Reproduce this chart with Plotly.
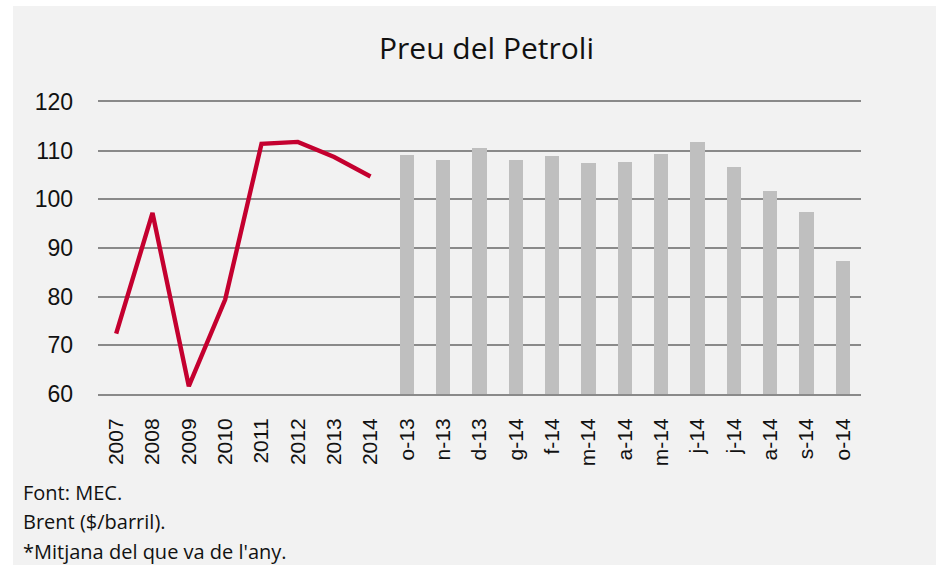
import plotly.graph_objects as go

# ---- data ----
year_labels = ["2007", "2008", "2009", "2010", "2011", "2012", "2013", "2014"]
year_values = [72.4, 97.2, 61.6, 79.4, 111.4, 111.8, 108.7, 104.7]
month_labels = ["o-13", "n-13", "d-13", "g-14", "f-14", "m-14", "a-14",
                "m-14", "j-14", "j-14", "a-14", "s-14", "o-14"]
month_values = [109.1, 108.0, 110.5, 108.0, 109.0, 107.5, 107.7,
                109.4, 111.8, 106.6, 101.7, 97.3, 87.3]
y_ticks = [60, 70, 80, 90, 100, 110, 120]
title_text = "Preu del Petroli"
notes = ["Font: MEC.", "Brent ($/barril).", "*Mitjana del que va de l'any."]

all_labels = year_labels + month_labels
x_year = list(range(len(year_labels)))
x_month = list(range(len(year_labels), len(all_labels)))

# ---- layout geometry (pixels) ----
W, H = 936, 565
L, R, T, B = 98, 861, 102, 394
pw, ph = R - L, B - T


def px_x(x):
    return (x - L) / pw


def px_y(y):
    return (B - y) / ph


fig = go.Figure()
fig.add_trace(go.Bar(x=x_month, y=month_values, width=0.4,
                     marker=dict(color="#bfbfbf", line=dict(width=0)),
                     showlegend=False, hoverinfo="skip"))
fig.add_trace(go.Scatter(x=x_year, y=year_values, mode="lines",
                         line=dict(color="#c4002f", width=4.4),
                         showlegend=False, hoverinfo="skip"))

fig.add_shape(type="rect", xref="paper", yref="paper",
              x0=px_x(13), x1=px_x(W + 5), y0=px_y(H + 5), y1=px_y(6),
              fillcolor="#f2f2f2", line=dict(width=0), layer="below")

fig.add_annotation(text=title_text, xref="paper", yref="paper",
                   x=px_x(486), y=px_y(48), xanchor="center", yanchor="middle",
                   showarrow=False,
                   font=dict(family="Open Sans", size=30, color="#111111"))

for t, yc in zip(notes, [492, 521, 551]):
    fig.add_annotation(text=t, xref="paper", yref="paper",
                       x=px_x(21), y=px_y(yc), xanchor="left", yanchor="middle",
                       showarrow=False,
                       font=dict(family="Open Sans", size=20, color="#111111"))

fig.update_layout(
    width=W, height=H,
    margin=dict(l=L, r=W - R, t=T, b=H - B, pad=0),
    paper_bgcolor="white",
    plot_bgcolor="rgba(0,0,0,0)",
    bargap=0,
)
fig.update_xaxes(
    range=[-0.5, len(all_labels) - 0.5],
    tickmode="array", tickvals=list(range(len(all_labels))), ticktext=all_labels,
    tickangle=-90, showgrid=False,
    showline=True, mirror=True, linecolor="#8a8a8a", linewidth=2,
    ticks="", ticklabelstandoff=14,
    tickfont=dict(family="Liberation Sans", size=21, color="#111111"),
    zeroline=False,
)
fig.update_yaxes(
    range=[60, 120], tickmode="array", tickvals=y_ticks,
    showgrid=True, gridcolor="#8a8a8a", gridwidth=2,
    zeroline=False, showline=False, ticks="", ticklabelstandoff=24,
    tickfont=dict(family="Liberation Sans", size=23, color="#111111"),
)

fig.write_html(
    "out.html",
    config={"displayModeBar": False},
    post_script="document.body.style.margin='0';document.body.style.overflow='hidden';",
)
